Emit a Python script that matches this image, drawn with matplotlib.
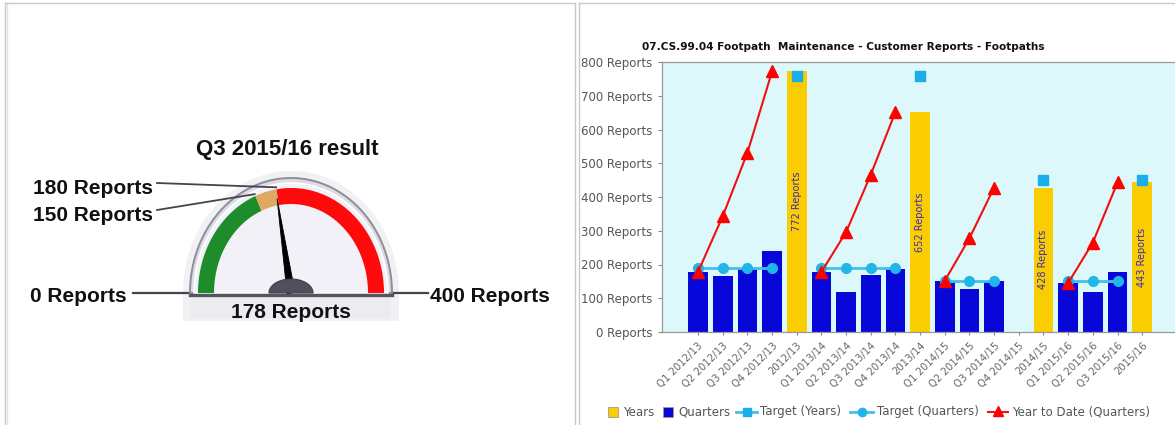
import numpy as np
import matplotlib
matplotlib.use("Agg")
import matplotlib.pyplot as plt
from matplotlib.patches import Polygon, Rectangle

# ---------------- data ----------------
categories = ["Q1 2012/13", "Q2 2012/13", "Q3 2012/13", "Q4 2012/13", "2012/13",
              "Q1 2013/14", "Q2 2013/14", "Q3 2013/14", "Q4 2013/14", "2013/14",
              "Q1 2014/15", "Q2 2014/15", "Q3 2014/15", "Q4 2014/15", "2014/15",
              "Q1 2015/16", "Q2 2015/16", "Q3 2015/16", "2015/16"]
nan = np.nan
years = [nan, nan, nan, nan, 772, nan, nan, nan, nan, 652,
         nan, nan, nan, nan, 428, nan, nan, nan, 443]
quarters = [178, 165, 188, 241, nan, 178, 118, 170, 186, nan,
            152, 126, 150, nan, nan, 145, 120, 178, nan]
target_years = [nan, nan, nan, nan, 760, nan, nan, nan, nan, 760,
                nan, nan, nan, nan, 450, nan, nan, nan, 450]
target_quarters = [190, 190, 190, 190, nan, 190, 190, 190, 190, nan,
                   150, 150, 150, nan, nan, 150, 150, 150, nan]
year_to_date = [178, 343, 531, 772, nan, 178, 296, 466, 652, nan,
                152, 278, 428, nan, nan, 145, 265, 443, nan]
y_ticks = [0, 100, 200, 300, 400, 500, 600, 700, 800]
unit = "Reports"

gauge_title = "Q3 2015/16 result"
gauge_value = 178
gauge_min, gauge_max = 0, 400
gauge_bands = [(0, 150, "#1e8c2a"), (150, 180, "#e0a862"), (180, 400, "#ff0a0a")]
gauge_marks = [150, 180]

chart_title = "07.CS.99.04 Footpath  Maintenance - Customer Reports - Footpaths"

# ---------------- figure ----------------
W, H = 1175, 425
fig = plt.figure(figsize=(W / 100, H / 100), dpi=100)
fig.patch.set_facecolor("white")

# overlay in pixel coordinates (for gauge, borders, legend)
ov = fig.add_axes([0, 0, 1, 1])
ov.set_xlim(0, W)
ov.set_ylim(H, 0)
ov.axis("off")

# panel borders
bc = "#c9c9c9"
ov.plot([4.5, 4.5], [2.5, H], color=bc, lw=1)
ov.plot([7, 7], [2.5, H], color="#e2e2e2", lw=1)
ov.plot([4.5, 575], [2.5, 2.5], color=bc, lw=1)
ov.plot([575, 575], [2.5, H], color=bc, lw=1)
ov.plot([578.5, 578.5], [2.5, H], color=bc, lw=1)
ov.plot([578.5, W], [2.5, 2.5], color=bc, lw=1)

# ---------------- gauge ----------------
cx, cy = 291, 293


def ang(v):
    return np.pi * (1 - (v - gauge_min) / (gauge_max - gauge_min))


def arc(v0, v1, rx, ry, n=120):
    t = np.linspace(ang(v0), ang(v1), n)
    return np.column_stack([cx + rx * np.cos(t), cy - ry * np.sin(t)])


def band(v0, v1, rxo, ryo, rxi, ryi):
    return np.vstack([arc(v0, v1, rxo, ryo), arc(v1, v0, rxi, ryi)])


# soft halo
ov.add_patch(Polygon(np.vstack([arc(gauge_min, gauge_max, 108, 122),
                                [[cx + 108, cy + 28], [cx - 108, cy + 28]]]),
                     closed=True, fc="#f1f1f4", ec="none", zorder=1))
# bezel
ov.add_patch(Polygon(arc(gauge_min, gauge_max, 101, 115), closed=True,
                     fc="#dcdce3", ec="#8e8e9a", lw=1.4, zorder=2))
ov.add_patch(Polygon(arc(gauge_min, gauge_max, 97, 110), closed=True,
                     fc="#f3f1f8", ec="#ffffff", lw=1.2, zorder=3))
for v0, v1, c in gauge_bands:
    ov.add_patch(Polygon(band(v0, v1, 93, 105, 77, 89), closed=True,
                         fc=c, ec="none", zorder=4))
# base line and lower shading
ov.add_patch(Rectangle((cx - 100, cy + 2), 200, 24, fc="#ececf0", ec="none", zorder=1.5))
ov.plot([cx - 101, cx + 101], [cy + 2, cy + 2], color="#55555f", lw=2.4, zorder=5)

# needle
th = ang(gauge_value)
tip = (cx + 81 * np.cos(th), cy - 96 * np.sin(th))
px, py = np.sin(th), np.cos(th)
ov.add_patch(Polygon([[cx + 4 * px, cy + 4 * py], [tip[0], tip[1]],
                      [cx - 4 * px, cy - 4 * py]], closed=True, fc="black", ec="black",
                     lw=0.6, zorder=6))
ov.add_patch(Polygon(arc(gauge_min, gauge_max, 22, 14), closed=True,
                     fc="#50505c", ec="#40404a", lw=0.8, zorder=7))

gfont = dict(family="Liberation Sans", weight="bold", color="#111111")
ov.text(cx - 4, 150, gauge_title, ha="center", va="center", fontsize=16, **gfont)
ov.text(cx, 312, f"{gauge_value} {unit}", ha="center", va="center", fontsize=15, **gfont, zorder=8)
ov.text(30, 296, f"{gauge_min} {unit}", ha="left", va="center", fontsize=15, **gfont)
ov.text(430, 296, f"{gauge_max} {unit}", ha="left", va="center", fontsize=15, **gfont)
ov.plot([133, cx - 101], [cy, cy], color="#444450", lw=1.6, zorder=1.6)
ov.plot([cx + 101, 428], [cy, cy], color="#444450", lw=1.6, zorder=1.6)
label_y = {180: 188, 150: 215}
for m in gauge_marks:
    ly = label_y[m]
    ov.text(33, ly, f"{m} {unit}", ha="left", va="center", fontsize=15, **gfont)
    t = ang(m)
    ex, ey = cx + 95 * np.cos(t), cy - 107 * np.sin(t)
    ov.plot([157, ex], [ly - 5, ey], color="#444450", lw=1.3, zorder=4.5)

# ---------------- bar / line chart ----------------
left, right = 662, W
top, bottom = 62, 332
ax = fig.add_axes([left / W, (H - bottom) / H, (right - left) / W, (bottom - top) / H])
ax.set_facecolor("#dcf8fa")
x = np.arange(len(categories))
ax.bar(x, quarters, width=0.8, color="#0707d9", zorder=2)
ax.bar(x, years, width=0.8, color="#f9cd00", zorder=2)
ax.plot(x, target_quarters, color="#3ec2ef", lw=2.0, marker="o", ms=7,
        mfc="#22b5e8", mec="#22b5e8", zorder=3)
ax.plot(x, target_years, color="#3ec2ef", lw=2.0, marker="s", ms=7,
        mfc="#1aaeea", mec="#1aaeea", zorder=3)
ax.plot(x, year_to_date, color="#f01010", lw=1.5, marker="^", ms=9,
        mfc="#ff0000", mec="#ff0000", zorder=4)
for xi, v in zip(x, years):
    if not np.isnan(v):
        ax.text(xi, v / 2, f"{int(v)} {unit}", rotation=90, ha="center", va="center",
                fontsize=7, color="#3a2ab8", zorder=5)

ax.set_xlim(-1.46, 19.33)
ax.set_ylim(0, 800)
ax.set_yticks(y_ticks)
ax.set_yticklabels([f"{v} {unit}" for v in y_ticks], fontsize=8.5, color="#555555")
ax.set_xticks(x)
ax.set_xticklabels(categories, rotation=45, ha="right", va="top",
                   rotation_mode="anchor", fontsize=7.3, color="#666666")
ax.tick_params(axis="y", length=3, width=0.8, color="#888888", pad=4)
ax.tick_params(axis="x", length=2, width=0.8, color="#888888", pad=4)
for s in ["left", "bottom", "top"]:
    ax.spines[s].set_color("#999999")
    ax.spines[s].set_linewidth(0.9)
ax.spines["right"].set_visible(False)

fig.text(843 / W, (H - 47) / H, chart_title, ha="center", va="center",
         fontsize=7.6, fontweight="bold", color="#111111")

# ---------------- legend (manual) ----------------
ly = 412
lfs = 8.5
lc = "#555555"
ov.add_patch(Rectangle((608, ly - 5), 10, 10, fc="#f9cd00", ec="#999999", lw=0.6))
ov.text(623, ly, "Years", fontsize=lfs, color=lc, va="center", ha="left")
ov.add_patch(Rectangle((663, ly - 5), 10, 10, fc="#0707d9", ec="#999999", lw=0.6))
ov.text(678, ly, "Quarters", fontsize=lfs, color=lc, va="center", ha="left")
ov.plot([736, 757], [ly, ly], color="#3ec2ef", lw=2)
ov.plot([746.5], [ly], marker="s", ms=6, color="#1aaeea")
ov.text(760, ly, "Target (Years)", fontsize=lfs, color=lc, va="center", ha="left")
ov.plot([850, 873], [ly, ly], color="#3ec2ef", lw=2)
ov.plot([861.5], [ly], marker="o", ms=6, color="#22b5e8")
ov.text(877, ly, "Target (Quarters)", fontsize=lfs, color=lc, va="center", ha="left")
ov.plot([988, 1008], [ly, ly], color="#f01010", lw=1.5)
ov.plot([998], [ly - 1], marker="^", ms=7, color="#ff0000")
ov.text(1012, ly, "Year to Date (Quarters)", fontsize=lfs, color=lc, va="center", ha="left")

fig.savefig("out.png", dpi=100)
